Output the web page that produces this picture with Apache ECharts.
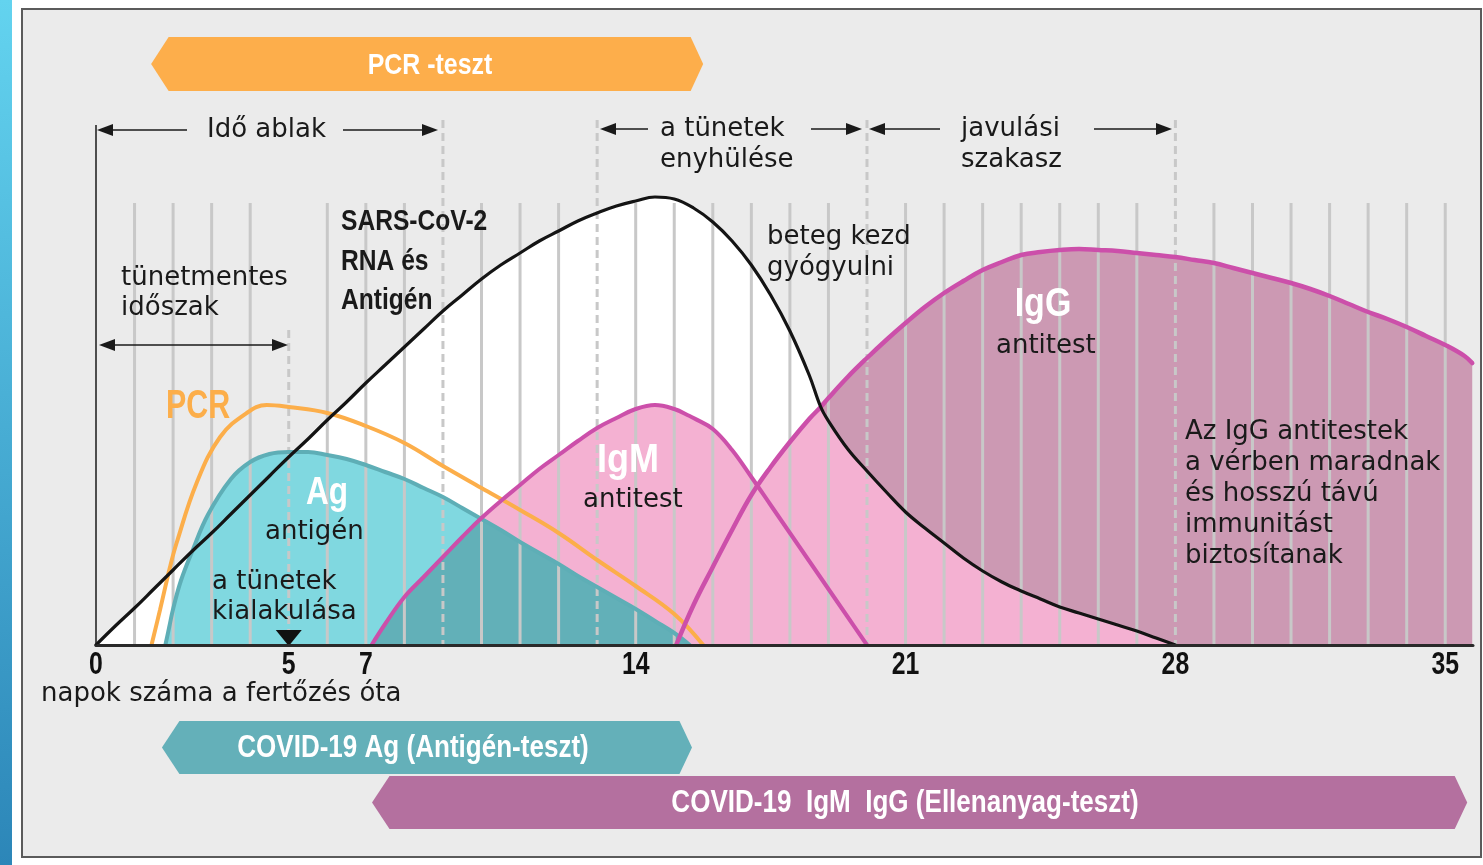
<!DOCTYPE html>
<html>
<head>
<meta charset="utf-8">
<style>
html,body{margin:0;padding:0;background:#ffffff;}
#c{width:1483px;height:865px;}
</style>
<script src="https://cdn.jsdelivr.net/npm/echarts@6/dist/echarts.min.js"></script>
</head>
<body>
<div id="c"></div>
<script>
// ---------------- DATA (day, relative level) ----------------
const tickDays = [0, 5, 7, 14, 21, 28, 35];
const solidDayLines = [1,2,3,4,6,7,8,10,11,12,14,15,16,17,18,19,21,22,23,24,25,26,27,29,30,31,32,33,34,35];
const dashedDayLines = [5, 9, 13, 20, 28];
const symptomOnsetDay = [5];

// SARS-CoV-2 RNA & antigen (black curve)
const rnaAntigen = [[0,0],[0.5,19],[1,37],[1.5,56],[2,75],[2.5,94],[3,112],[3.5,131],[4,150],[4.5,169],[5,188],[5.5,206],[6,225],[6.5,243],[7,262],[7.5,280],[8,298],[8.5,316],[9,334],[9.5,350],[10,366],[10.5,380],[11,392],[11.5,404],[12,414],[12.5,424],[13,432],[13.5,439],[14,444],[14.5,448],[15,446],[15.5,437],[16,423],[16.5,404],[17,380],[17.5,350],[18,314],[18.5,270],[18.8,238],[19,224],[19.5,196],[20,174],[20.5,153],[21,133],[21.5,117],[22,102],[22.5,87],[23,74],[23.5,63],[24,54],[24.5,46],[25,38],[25.5,32],[26,26],[26.5,20],[27,14],[27.5,7],[28,0]];
// PCR (orange)
const pcr = [[1.44,0],[1.66,35],[1.92,78],[2.09,102],[2.61,162],[3.22,208],[3.91,232],[4.43,240],[5,238],[6,232],[7,219],[8,202],[9,179],[10,157],[11,135],[12,112],[13,85],[14,59],[15,31],[15.75,0]];
// Ag antigen (teal)
const agAntigen = [[1.8,0],[1.9,18],[2,36],[2.2,64],[2.5,94],[2.9,130],[3.5,166],[4,183],[4.5,191],[5,193],[5.5,193],[6,190],[6.5,186],[7,180],[7.5,173],[8,166],[8.5,157],[9,148],[9.5,137],[10,126],[10.5,115],[11,103],[11.5,92],[12,81],[12.5,69],[13,58],[13.5,47],[14,36],[14.5,24],[15,12],[15.4,0]];
// IgM antibody
const igm = [[7.15,0],[7.5,21],[8,48],[8.5,68],[9,88],[9.5,108],[10,127],[10.5,144],[11,160],[11.5,176],[12,190],[12.5,204],[13,217],[13.5,227],[14,236],[14.5,240],[15,236],[15.4,229],[15.5,227],[16,216],[16.5,195],[17,168],[17.5,140],[18,112],[18.5,84],[19,56],[19.5,28],[20,0]];
// IgG antibody
const igg = [[15.05,0],[15.5,40],[16,78],[16.5,115],[17,150],[17.5,178],[18,203],[18.5,226],[18.8,238],[19,247],[19.5,268],[20,287],[20.5,305],[21,322],[21.5,338],[22,352],[22.5,364],[23,375],[23.5,383],[24,390],[24.5,393],[25,395],[25.5,396],[26,395],[26.5,394],[27,392],[27.5,390],[28,388],[28.5,385],[29,382],[29.5,377],[30,372],[30.5,367],[31,362],[31.5,356],[32,349],[32.5,341],[33,333],[33.5,326],[34,318],[34.5,309],[35,300],[35.5,289],[35.7,282]];
// test windows (days) : PCR, antigen test, antibody test
const testWindows = [[1.43, 15.75], [1.71, 15.46], [7.16, 35.57]];

// ---------------- derived regions ----------------
const blackMap = new Map(rnaAntigen.map(p => [p[0], p[1]]));
const tealMap = new Map(agAntigen.map(p => [p[0], p[1]]));
// part of the IgG area lying under the black curve (drawn pink over the mauve IgG area)
const iggInsideBlack = igg.map(([d, v]) => {
  const b = blackMap.has(d) ? blackMap.get(d) : (d >= 28 ? 0 : Infinity);
  return [d, Math.min(b, v)];
});
const agOverlap = igm.filter(([d]) => d <= 15.4).map(([d, v]) => [d, Math.min(v, tealMap.has(d) ? tealMap.get(d) : v)]);

// ---------------- styles ----------------
const C = {
  bg: '#ebebeb', white: '#ffffff', pink: '#f4b1d2', mauve: '#cc99b3',
  tealLight: '#80d8e0', tealDark: '#62b0b8', tealLine: '#5eaeb6',
  orange: '#fcae4a', magenta: '#cc4faa', black: '#141414', grid: '#c8c8c8'
};
const REG = '26px "DejaVu Sans", "Liberation Sans", sans-serif';
const BOLD = s => `bold ${s}px "Liberation Sans", Arial, sans-serif`;
const SM = 0.4;

function areaS(data, color, z) {
  return {type:'line', data, smooth:SM, symbol:'none', z, silent:true,
    lineStyle:{width:0, opacity:0}, areaStyle:{color, opacity:1}};
}
function strokeS(data, color, width, z) {
  return {type:'line', data, smooth:SM, symbol:'none', z, silent:true,
    lineStyle:{color, width, cap:'round'}};
}

function txt(text, x, y, o) {
  o = o || {};
  return {type:'text', x, y, z:100, scaleX:o.sx || 1, silent:true,
    style:{text, fill:o.fill || '#1a1a1a', font:o.font || REG, align:o.align || 'left', verticalAlign:'middle'}};
}
function hArrow(x1, x2, y, headL, headR) {
  const els = [];
  const L = 16, W = 6;
  els.push({type:'line', z:100, shape:{x1: headL ? x1 + 8 : x1, y1:y, x2: headR ? x2 - 8 : x2, y2:y}, style:{stroke:'#1a1a1a', lineWidth:1.6}});
  if (headL) els.push({type:'polygon', z:100, shape:{points:[[x1,y],[x1+L,y-W],[x1+L,y+W]]}, style:{fill:'#1a1a1a'}});
  if (headR) els.push({type:'polygon', z:100, shape:{points:[[x2,y],[x2-L,y-W],[x2-L,y+W]]}, style:{fill:'#1a1a1a'}});
  return els;
}

const graphics = [
  {type:'rect', z:-10, silent:true, shape:{x:0, y:0, width:12, height:865},
   style:{fill:{type:'linear', x:0, y:0, x2:0, y2:1, colorStops:[{offset:0, color:'#63d3ef'},{offset:1, color:'#2c86b8'}]}}},
  {type:'rect', z:-10, silent:true, shape:{x:22, y:9, width:1459, height:848}, style:{fill:C.bg, stroke:'#5b5b5b', lineWidth:2}},
  {type:'line', z:60, silent:true, shape:{x1:96, y1:125, x2:96, y2:645}, style:{stroke:'#1a1a1a', lineWidth:1.5}},
  ...hArrow(97, 187, 130, true, false),
  ...hArrow(343, 438, 130, false, true),
  ...hArrow(600, 648, 129, true, false),
  ...hArrow(811, 862, 129, false, true),
  ...hArrow(869, 940, 129, true, false),
  ...hArrow(1094, 1172, 129, false, true),
  ...hArrow(99, 288, 345, true, true),
  txt('PCR -teszt', 430, 66, {font:BOLD(30), sx:0.83, align:'center', fill:'#ffffff'}),
  txt('Idő ablak', 207, 130),
  txt('a tünetek', 660, 129),
  txt('enyhülése', 660, 160),
  txt('javulási', 961, 129),
  txt('szakasz', 961, 160),
  txt('tünetmentes', 121, 278),
  txt('időszak', 121, 308),
  txt('SARS-CoV-2', 341, 222, {font:BOLD(30), sx:0.82}),
  txt('RNA és', 341, 262, {font:BOLD(30), sx:0.82}),
  txt('Antigén', 341, 301, {font:BOLD(30), sx:0.82}),
  txt('beteg kezd', 767, 237),
  txt('gyógyulni', 767, 268),
  txt('PCR', 166, 407, {font:BOLD(40), sx:0.76, fill:C.orange}),
  txt('Ag', 327, 494, {font:BOLD(38), sx:0.83, align:'center', fill:'#ffffff'}),
  txt('antigén', 265, 532),
  txt('a tünetek', 212, 582),
  txt('kialakulása', 212, 612),
  txt('IgM', 628, 461, {font:BOLD(40), sx:0.9, align:'center', fill:'#ffffff'}),
  txt('antitest', 583, 500),
  txt('IgG', 1043, 305, {font:BOLD(40), sx:0.85, align:'center', fill:'#ffffff'}),
  txt('antitest', 996, 346),
  txt('Az IgG antitestek', 1185, 432),
  txt('a vérben maradnak', 1185, 463),
  txt('és hosszú távú', 1185, 494),
  txt('immunitást', 1185, 525),
  txt('biztosítanak', 1185, 556),
  txt('napok száma a fertőzés óta', 41, 694),
  txt('COVID-19 Ag (Antigén-teszt)', 413, 748, {font:BOLD(31), sx:0.84, align:'center', fill:'#ffffff'}),
  txt('COVID-19  IgM  IgG (Ellenanyag-teszt)', 905, 803, {font:BOLD(31), sx:0.84, align:'center', fill:'#ffffff'})
];

const bannerY = [[37, 91], [721, 774], [776, 829]];
const bannerColor = ['#fdae4b', '#64b0b9', '#b4709f'];

const option = {
  animation: false,
  backgroundColor: 'transparent',
  grid: {left:96, right:10, top:45, bottom:220, containLabel:false},
  xAxis: {type:'value', min:0, max:35.72, z:20,
    axisLine:{show:true, lineStyle:{color:'#2a2a2a', width:3}},
    axisTick:{show:false}, axisLabel:{show:false}, splitLine:{show:false}},
  yAxis: {type:'value', min:0, max:600, show:false, splitLine:{show:false}},
  graphic: {elements: graphics},
  series: [
    areaS(rnaAntigen, C.white, 1),
    areaS(igg, C.mauve, 2),
    areaS(igm, C.pink, 2),
    areaS(iggInsideBlack, C.pink, 3),
    areaS(agAntigen, C.tealLight, 4),
    areaS(agOverlap, C.tealDark, 5),
    {type:'custom', z:6, silent:true, clip:false, data: solidDayLines.map(d => [d, 0]),
     renderItem: (params, api) => {
       const t = api.coord([api.value(0), 442]);
       const b = api.coord([api.value(0), 0]);
       return {type:'line', shape:{x1:t[0], y1:t[1], x2:b[0], y2:b[1]}, style:{stroke:C.grid, lineWidth:3}};
     }},
    {type:'custom', z:6, silent:true, clip:false, data: dashedDayLines.map(d => [d, 0]),
     renderItem: (params, api) => {
       const d = api.value(0);
       const t = api.coord([d, d === 5 ? 315 : 525]);
       const b = api.coord([d, 0]);
       return {type:'line', shape:{x1:t[0], y1:t[1], x2:b[0], y2:b[1]}, style:{stroke:C.grid, lineWidth:3, lineDash:[8,5]}};
     }},
    strokeS(agAntigen, C.tealLine, 4, 7),
    strokeS(pcr, C.orange, 4, 7),
    strokeS(igm, C.magenta, 4, 8),
    strokeS(igg, C.magenta, 4.5, 8),
    strokeS(rnaAntigen, C.black, 3.2, 9),
    {type:'custom', z:10, silent:true, clip:false, data: symptomOnsetDay.map(d => [d, 0]),
     renderItem: (params, api) => {
       const p = api.coord([api.value(0), 0]);
       return {type:'polygon', shape:{points:[[p[0]-13, p[1]-15],[p[0]+13, p[1]-15],[p[0], p[1]+1]]}, style:{fill:'#111111'}};
     }},
    {type:'custom', z:10, silent:true, clip:false, data: tickDays.map(d => [d, 0]),
     renderItem: (params, api) => {
       const p = api.coord([api.value(0), 0]);
       return {type:'text', x:p[0], y:p[1] + 20, scaleX:0.8,
         style:{text:String(api.value(0)), fill:'#111111', font:BOLD(31), align:'center', verticalAlign:'middle'}};
     }},
    {type:'custom', z:10, silent:true, clip:false, data: testWindows.map(w => [w[0], w[1]]),
     renderItem: (params, api) => {
       const i = params.dataIndex;
       const xl = api.coord([api.value(0), 0])[0];
       const xr = api.coord([api.value(1), 0])[0];
       const y0 = bannerY[i][0], y1 = bannerY[i][1], ym = (y0 + y1) / 2;
       return {type:'polygon', shape:{points:[[xl, ym],[xl+17.5, y0],[xr-12.5, y0],[xr, ym],[xr-12.5, y1],[xl+17.5, y1]]},
         style:{fill:bannerColor[i]}};
     }}
  ]
};

const chart = echarts.init(document.getElementById('c'), null, {renderer:'canvas', width:1483, height:865});
chart.setOption(option);
</script>
</body>
</html>
